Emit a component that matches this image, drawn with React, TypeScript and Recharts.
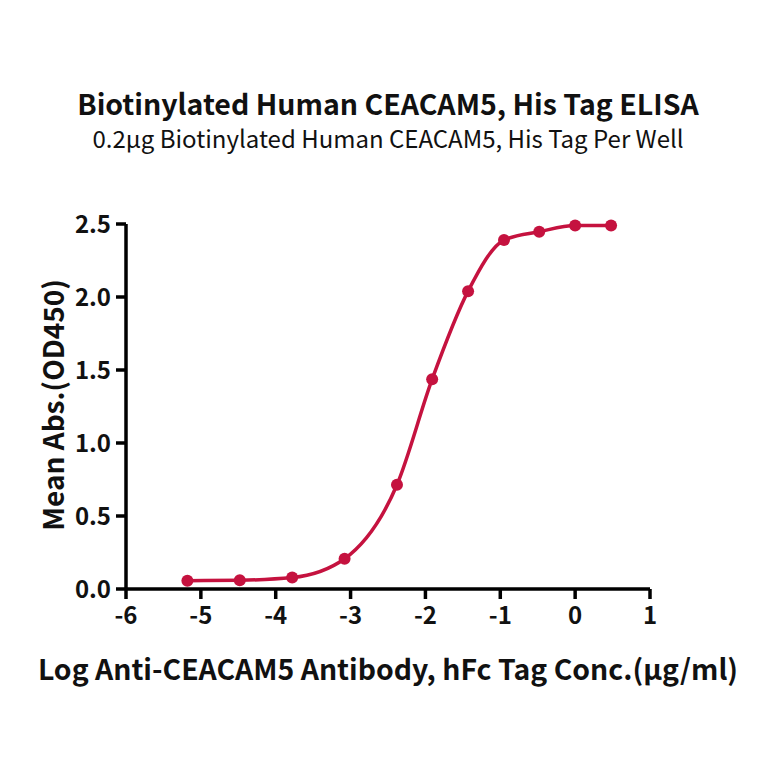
import React from "react";
import { LineChart, Line, XAxis, YAxis } from "recharts";

const logConc = [-5.18, -4.48, -3.78, -3.08, -2.38, -1.91, -1.43, -0.95, -0.48, 0, 0.48];
const meanAbs = [0.057, 0.06, 0.078, 0.207, 0.714, 1.437, 2.04, 2.39, 2.447, 2.49, 2.49];
const xTicks = [-6, -5, -4, -3, -2, -1, 0, 1];
const yTicks = [0, 0.5, 1, 1.5, 2, 2.5];

const data = logConc.map((x, i) => ({ x, y: meanAbs[i] }));

const red = "#C5123F";
const font = "'Noto Sans CJK SC', 'Noto Sans', sans-serif";

const textStyle: React.CSSProperties = {
  position: "absolute",
  left: 6,
  width: 764,
  textAlign: "center",
  fontFamily: font,
  color: "#111",
  whiteSpace: "nowrap",
  lineHeight: 1,
};

const tickStyle = { fill: "#111", fontSize: 24, fontWeight: 700, fontFamily: font };

export default function App() {
  return (
    <div style={{ position: "absolute", left: 0, top: 0, width: 764, height: 764, background: "#fff" }}>
      <LineChart width={764} height={764} data={data} margin={{ top: 224, right: 114, bottom: 0, left: 0 }}>
        <XAxis
          dataKey="x"
          type="number"
          domain={[-6, 1]}
          ticks={xTicks}
          axisLine={{ stroke: "#000", strokeWidth: 3.5 }}
          tickLine={{ stroke: "#000", strokeWidth: 3.5 }}
          tickSize={10}
          tickMargin={8}
          height={175}
          tick={tickStyle}
        />
        <YAxis
          type="number"
          domain={[0, 2.5]}
          ticks={yTicks}
          width={126}
          axisLine={{ stroke: "#000", strokeWidth: 3.5 }}
          tickLine={{ stroke: "#000", strokeWidth: 3.5 }}
          tickSize={10}
          tickMargin={5}
          tickFormatter={(v: number) => v.toFixed(1)}
          tick={tickStyle}
        />
        <Line
          type="monotone"
          dataKey="y"
          stroke={red}
          strokeWidth={3.5}
          dot={{ r: 6, fill: red, stroke: red, strokeWidth: 0 }}
          isAnimationActive={false}
        />
      </LineChart>
      <div style={{ ...textStyle, top: 89, fontSize: 28.5, fontWeight: 700 }}>
        Biotinylated Human CEACAM5, His Tag ELISA
      </div>
      <div style={{ ...textStyle, top: 126, fontSize: 24, fontWeight: 400 }}>
        0.2μg Biotinylated Human CEACAM5, His Tag Per Well
      </div>
      <div style={{ ...textStyle, top: 654, fontSize: 28.4, fontWeight: 700 }}>
        Log Anti-CEACAM5 Antibody, hFc Tag Conc.(μg/ml)
      </div>
      <div
        style={{
          ...textStyle,
          width: 400,
          left: 52 - 200,
          top: 405 - 14,
          fontSize: 28,
          fontWeight: 700,
          transform: "rotate(-90deg)",
        }}
      >
        Mean Abs.(OD450)
      </div>
    </div>
  );
}
